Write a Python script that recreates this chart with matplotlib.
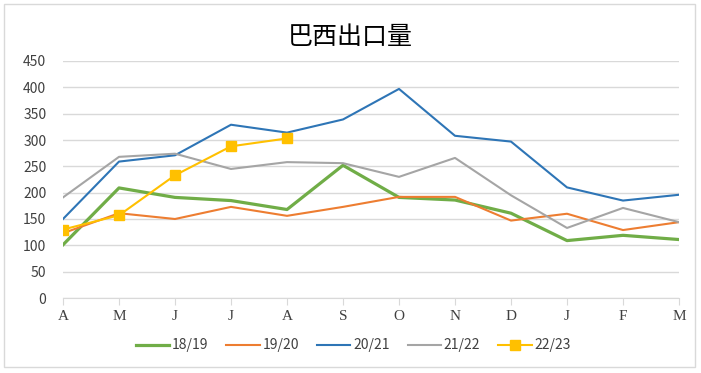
import matplotlib
matplotlib.use("Agg")
import matplotlib.pyplot as plt
from matplotlib.patches import Rectangle

plt.rcParams['font.family'] = ['Noto Sans CJK SC', 'DejaVu Sans']

months = ['A', 'M', 'J', 'J', 'A', 'S', 'O', 'N', 'D', 'J', 'F', 'M']
s1819 = [101, 209, 191, 185, 168, 252, 191, 186, 161, 109, 119, 111]
s1920 = [123, 161, 150, 173, 156, 173, 192, 192, 147, 160, 129, 144]
s2021 = [150, 259, 271, 329, 314, 339, 397, 308, 297, 210, 185, 196]
s2122 = [191, 268, 274, 245, 258, 256, 230, 266, 195, 133, 171, 144]
s2223 = [130, 157, 233, 288, 303]
yticks = list(range(0, 451, 50))

fig = plt.figure(figsize=(7.01, 3.73), dpi=100)
fig.patches.append(Rectangle((4 / 701, 1 - 367 / 373), 691 / 701, 363 / 373,
                             transform=fig.transFigure, fill=False,
                             edgecolor='#d9d9d9', linewidth=1))
ax = fig.add_axes([63 / 701, 1 - 298 / 373, 616 / 701, 237 / 373])

x = list(range(len(months)))
ax.plot(x, s1819, color='#70AD47', lw=2.3, label='18/19', solid_joinstyle='round')
ax.plot(x, s1920, color='#ED7D31', lw=1.5, label='19/20')
ax.plot(x, s2021, color='#2E75B6', lw=1.5, label='20/21')
ax.plot(x, s2122, color='#A5A5A5', lw=1.5, label='21/22')
ax.plot(x[:len(s2223)], s2223, color='#FFC000', lw=1.5, marker='s',
        markersize=7, label='22/23')

ax.set_xlim(0, 11)
ax.set_ylim(0, 450)
ax.set_yticks(yticks)
ax.set_xticks(x)
ax.set_xticklabels(months, fontfamily='Liberation Serif', fontsize=11)
ax.tick_params(axis='y', length=0, pad=12, labelsize=10, labelcolor='#404040')
ax.tick_params(axis='x', length=5, color='#d9d9d9', pad=4, labelcolor='#404040')
ax.grid(axis='y', color='#d9d9d9', lw=1)
ax.set_axisbelow(True)
for side in ['top', 'right', 'left']:
    ax.spines[side].set_visible(False)
ax.spines['bottom'].set_color('#d9d9d9')

fig.text(350 / 701, 1 - 37 / 373, '巴西出口量', ha='center', va='center',
         fontsize=18, color='black')

ax.legend(loc='center', bbox_to_anchor=(0.471, -0.2), ncol=5, frameon=False,
          fontsize=10, handlelength=2.4, columnspacing=1.3, handletextpad=0.2,
          labelcolor='#404040')

fig.savefig('out.png', dpi=100)
